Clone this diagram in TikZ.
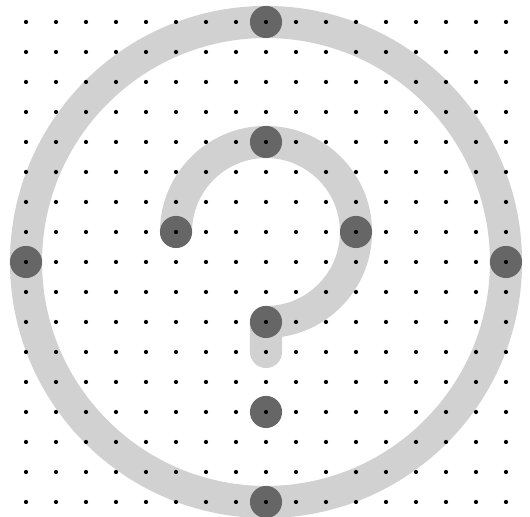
\documentclass[tikz,border=0pt]{standalone}
\usepackage{tikz}
\usetikzlibrary{calc}

\begin{document}
\begin{tikzpicture}[
  band/.style={draw=black!18,line width=1.07cm,line cap=round,line join=round},
  knot/.style={circle,fill=black!60,minimum size=1.07cm,inner sep=0pt},
  gdot/.style={circle,fill=black,minimum size=0.14cm,inner sep=0pt}
]
  \useasboundingbox (-8.867,-8.5) rectangle (8.8,8.733);

  % Outer ring and question mark
  \draw[band] (0,0) circle (8);
  \draw[band] (-3,1) arc[start angle=180,end angle=-90,radius=3] -- (0,-3);

  % Dark knots on the curves
  \node[knot] (top)   at (0,8)  {};
  \node[knot] (hook)  at (0,4)  {};
  \node[knot] (hl)    at (-3,1) {};
  \node[knot] (hr)    at (3,1)  {};
  \node[knot] (left)  at (-8,0) {};
  \node[knot] (right) at (8,0)  {};
  \node[knot] (stem)  at (0,-2) {};
  \node[knot] (point) at (0,-5) {};
  \node[knot] (bot)   at (0,-8) {};

  % Dot grid on top
  \foreach \x in {-9,...,8}
    \foreach \y in {-8,...,8}
      \node[gdot] at (\x,\y) {};
\end{tikzpicture}
\end{document}
